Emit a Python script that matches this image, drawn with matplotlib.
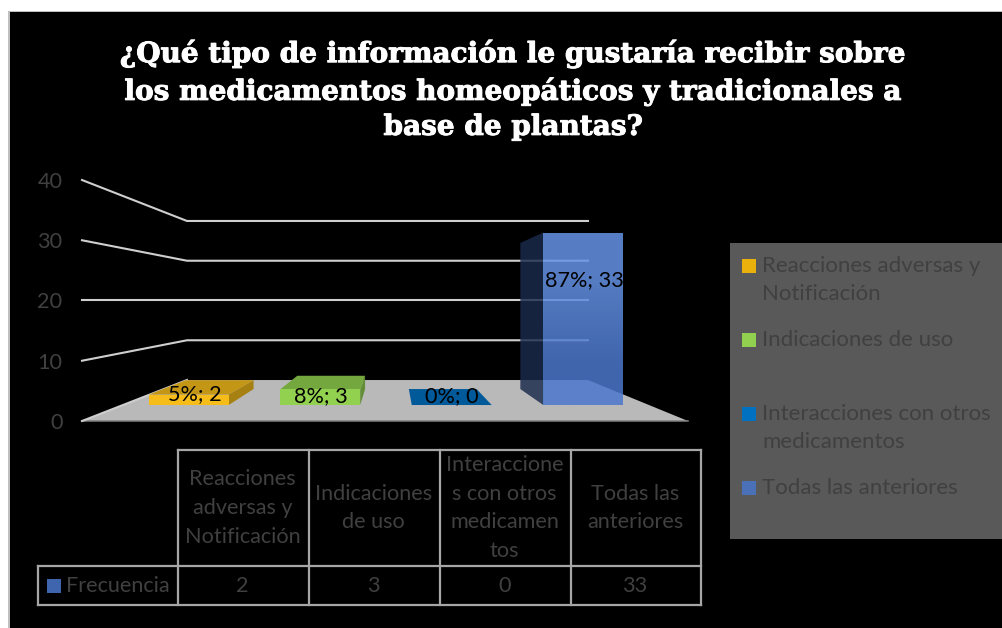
import numpy as np
import matplotlib
matplotlib.use('Agg')
import matplotlib.pyplot as plt
import matplotlib.patheffects as pe
from matplotlib.patches import Polygon, Rectangle

categories = ['Reacciones adversas y Notificación', 'Indicaciones de uso',
              'Interacciones con otros medicamentos', 'Todas las anteriores']
# wrapped the way the data table wraps them
table_heads = ['Reacciones\nadversas y\nNotificación', 'Indicaciones\nde uso',
               'Interaccione\ns con otros\nmedicamen\ntos', 'Todas las\nanteriores']
legend_heads = ['Reacciones adversas y\nNotificación', 'Indicaciones de uso',
                'Interacciones con otros\nmedicamentos', 'Todas las anteriores']
values = [2, 3, 0, 33]
percents = [5, 8, 0, 87]
series_name = 'Frecuencia'
y_ticks = [0, 10, 20, 30, 40]
title = '¿Qué tipo de información le gustaría recibir sobre\nlos medicamentos homeopáticos y tradicionales a\nbase de plantas?'

front_cols = ['#f5bc1a', '#92d14f', '#0070c0', '#4c78cb']
legend_cols = ['#eab10c', '#92d050', '#0070c0', '#4a70b8']
txt_col = '#404040'
line_col = '#a6a6a6'
fs = 15.6
W, H = 1002, 628

plt.rcParams['font.family'] = ['Lato', 'DejaVu Sans']

fig = plt.figure(figsize=(W / 100, H / 100), dpi=100, facecolor='white')

# overlay in pixels for the frame, table and legend
ov = fig.add_axes([0, 0, 1, 1], zorder=0)
ov.set_xlim(0, W)
ov.set_ylim(H, 0)
ov.axis('off')
ov.add_patch(Rectangle((8, 11), W, H, fc='#bfbfbf', lw=0))
ov.add_patch(Rectangle((10, 12), W, H, fc='#000000', lw=0))

# main axes is the front plane of the 3d box
ax = fig.add_axes([82 / W, (H - 421) / H, 606 / W, 241 / H], zorder=1)
ax.patch.set_visible(False)
for s in ax.spines.values():
    s.set_visible(False)


# depth goes 0 (front of floor) to 1 (back wall)
def project(c, v, t):
    x = -0.5 + 0.693 * t + (c + 0.5) * (4 - 1.353 * t) / 4
    y = 6.8 * t + v * (1 - 0.34 * t)
    return (x, y)


def shade(col, k):
    return tuple(k * n for n in matplotlib.colors.to_rgb(col))


def face(pts, **kw):
    p = Polygon(pts, clip_on=False, lw=0, **kw)
    ax.add_patch(p)
    return p


# floor
face([project(-0.5, 0, 0), project(3.5, 0, 0), project(3.5, 0, 1), project(-0.5, 0, 1)],
     fc='#b9b9b9', zorder=1)
ax.plot([-0.5, 3.5], [0, 0], color='#7f7f7f', lw=1.1, clip_on=False, zorder=2)

# gridlines, side wall then back wall
for v in y_ticks:
    pts = [project(-0.5, v, 0), project(-0.5, v, 1)]
    if v > 0:
        pts.append(project(3.5, v, 1))
    ax.plot(*zip(*pts), color='#cfcfcf', lw=1.5, clip_on=False, zorder=2)

# bars
hw = 0.304
t0, t1 = 0.39, 0.78
for i, v in enumerate(values):
    col = front_cols[i]
    a = 0.855 if v == max(values) else 1
    fl, fr = project(i - hw, v, t0), project(i + hw, v, t0)
    bl, br = project(i - hw, v, t1), project(i + hw, v, t1)
    fl0, fr0 = project(i - hw, 0, t0), project(i + hw, 0, t0)
    bl0, br0 = project(i - hw, 0, t1), project(i + hw, 0, t1)
    if v == max(values):
        # seen from below: only the inner side shows
        face([bl, fl, fl0, bl0], fc='#1b2b4c', alpha=0.83, zorder=3)
        front = face([fl, fr, fr0, fl0], fc='none', zorder=4)
        grad = np.array([[[0.40, 0.58, 0.90]], [[0.30, 0.47, 0.80]]])
        im = ax.imshow(grad, extent=(fl[0], fr[0], fl0[1], fl[1]), aspect='auto',
                       interpolation='bilinear', alpha=a, zorder=4, clip_on=True)
        im.set_clip_path(front)
    else:
        if br[0] > fr[0]:
            face([fr, br, br0, fr0], fc=shade(col, 0.68), zorder=3)
        face([fl, fr, br, bl], fc=shade(col, 0.8), zorder=3)
        face([fl, fr, fr0, fl0], fc=col, zorder=4)

ax.set_xlim(-0.5, 3.5)
ax.set_ylim(0, 40)
ax.set_xticks([])
ax.set_yticks(y_ticks)
ax.tick_params(axis='y', length=0, pad=14, labelsize=fs, labelcolor=txt_col)

# data labels
label_pos = [(195, 394), (321, 396), (452, 396), (584, 280)]
for (x, y), p, v in zip(label_pos, percents, values):
    fig.text(x / W, 1 - y / H, f'{p}%; {v}', ha='center', va='center',
             fontsize=fs, color='black', zorder=5)

t = fig.text(513 / W, 1 - 90 / H, title, ha='center', va='center', color='white',
             family='DejaVu Serif', fontweight='bold', fontsize=20.1, linespacing=1.38)
t.set_path_effects([pe.withStroke(linewidth=0.7, foreground='white')])

# data table
col_x = [178, 309, 440, 571, 701]
tl = 1.6
for x in col_x:
    ov.plot([x, x], [450, 605], color=line_col, lw=tl)
ov.plot([178, 701], [450, 450], color=line_col, lw=tl)
ov.plot([38, 701], [566, 566], color=line_col, lw=tl)
ov.plot([38, 701], [605, 605], color=line_col, lw=tl)
ov.plot([38, 38], [566, 605], color=line_col, lw=tl)
for i in range(4):
    cx = (col_x[i] + col_x[i + 1]) / 2 - 1
    ov.text(cx, 508, table_heads[i], ha='center', va='center', color=txt_col,
            fontsize=fs, linespacing=1.56)
    ov.text(cx, 585.5, str(values[i]), ha='center', va='center', color=txt_col, fontsize=fs)
ov.add_patch(Rectangle((47, 579), 14, 14, fc='#3f65ae', lw=0))
ov.text(66, 585.5, series_name, ha='left', va='center', color=txt_col, fontsize=fs)

# legend
ov.add_patch(Rectangle((730, 243), 272, 296, fc='#595959', lw=0))
for col, head, y in zip(legend_cols, legend_heads, [259, 333, 407, 481]):
    ov.add_patch(Rectangle((742, y), 14, 14, fc=col, lw=0))
    ov.text(762, y - 3, head, ha='left', va='top', color=txt_col, fontsize=16, linespacing=1.52)

fig.savefig('out.png', dpi=100, facecolor='white')
